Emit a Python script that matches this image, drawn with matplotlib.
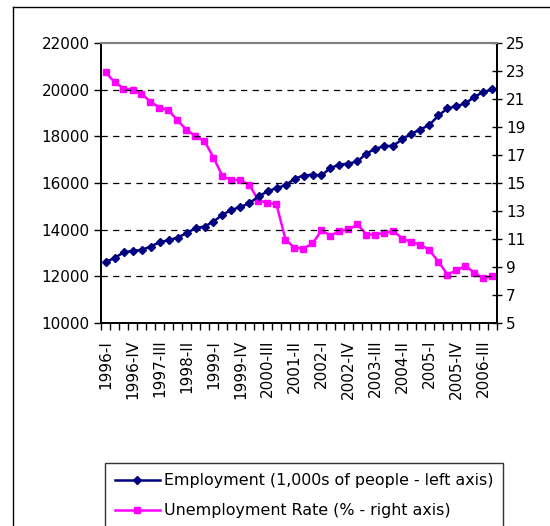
import matplotlib
matplotlib.use("Agg")
import matplotlib.pyplot as plt
from matplotlib.lines import Line2D
from matplotlib.ticker import FixedLocator, NullFormatter

plt.rcParams['font.family'] = ['DejaVu Sans']

years = list(range(1996, 2007))
quarter_names = ["I", "II", "III", "IV"]
quarters = [f"{y}-{q}" for y in years for q in quarter_names]

employment = [12628, 12774, 13032, 13088, 13131, 13273, 13462, 13548, 13660, 13850,
              14065, 14133, 14348, 14637, 14852, 14968, 15140, 15424, 15639, 15785,
              15897, 16180, 16320, 16357, 16327, 16645, 16787, 16830, 16929, 17260,
              17475, 17574, 17604, 17880, 18120, 18292, 18495, 18895, 19196, 19295,
              19411, 19699, 19897, 20013]

unemployment = [22.90, 22.22, 21.75, 21.63, 21.39, 20.79, 20.39, 20.20, 19.48, 18.79,
                18.36, 18.00, 16.81, 15.49, 15.21, 15.21, 14.85, 13.75, 13.59, 13.47,
                10.96, 10.37, 10.32, 10.68, 11.61, 11.25, 11.56, 11.68, 12.04, 11.32,
                11.32, 11.44, 11.56, 11.03, 10.77, 10.60, 10.20, 9.37, 8.46, 8.77,
                9.08, 8.58, 8.19, 8.34]

left_ticks = [10000, 12000, 14000, 16000, 18000, 20000, 22000]
right_ticks = [5, 7, 9, 11, 13, 15, 17, 19, 21, 23, 25]

W, H = 550, 526
fig = plt.figure(figsize=(W / 100, H / 100), dpi=100)
ax = fig.add_axes([101 / W, 1 - 323 / H, (497 - 101) / W, (323 - 43) / H])
ax2 = ax.twinx()

n = len(quarters)
x = list(range(n))

navy = "#000080"
magenta = "#FF00FF"
FS = 11

l1, = ax.plot(x, employment, color=navy, lw=1.8, marker="D", ms=4.2,
              mfc=navy, mec=navy, label="Employment (1,000s of people - left axis)")
l2, = ax2.plot(x, unemployment, color=magenta, lw=1.8, marker="s", ms=5,
               mfc=magenta, mec=magenta, label="Unemployment Rate (% - right axis)")

ax.set_xlim(-0.5, n - 0.5)
ax.set_ylim(10000, 22000)
ax2.set_ylim(5, 25)

# gridlines
for v in left_ticks[1:-1]:
    ax.axhline(v, color="black", lw=0.9, dashes=(5, 4.3), zorder=0)

ax.set_yticks(left_ticks)
ax.set_yticklabels([str(v) for v in left_ticks], fontsize=FS)
ax.tick_params(axis="y", direction="out", length=5, width=1, pad=3)
ax2.set_yticks(right_ticks)
ax2.set_yticklabels([str(v) for v in right_ticks], fontsize=FS)
ax2.tick_params(axis="y", direction="inout", length=7, width=1, pad=3)

label_idx = list(range(0, n, 3))
ax.xaxis.set_major_locator(FixedLocator(label_idx))
ax.set_xticklabels([quarters[i] for i in label_idx], rotation=90, fontsize=FS)
ax.xaxis.set_minor_locator(FixedLocator([i - 0.5 for i in range(n + 1)]))
ax.xaxis.set_minor_formatter(NullFormatter())
ax.tick_params(axis="x", which="major", length=0, pad=12)
ax.tick_params(axis="x", which="minor", direction="out", length=5, width=1)

for a in (ax, ax2):
    a.spines["left"].set_color("black")
    a.spines["left"].set_linewidth(1.3)
    a.spines["right"].set_color("black")
    a.spines["right"].set_linewidth(1.3)
    a.spines["bottom"].set_color("black")
    a.spines["bottom"].set_linewidth(1.3)
    a.spines["top"].set_color("#808080")
    a.spines["top"].set_linewidth(1.5)

ax.set_zorder(ax2.get_zorder() + 1)
ax.patch.set_visible(False)

leg = fig.legend(handles=[l1, l2], loc="upper left",
                 bbox_to_anchor=(105 / W, 1 - 463 / H), fontsize=11.4,
                 handlelength=2.8, handletextpad=0.25, labelspacing=0.95,
                 borderpad=0.65, frameon=True, fancybox=False, markerscale=1.0,
                 numpoints=1, borderaxespad=0)
leg.get_frame().set_edgecolor("black")
leg.get_frame().set_linewidth(1.0)

# outer chart border (extends past right and bottom)
fig.add_artist(Line2D([13 / W, 13 / W], [0, 1 - 7 / H], transform=fig.transFigure,
                      color="black", lw=1.0))
fig.add_artist(Line2D([13 / W, 1], [1 - 7 / H, 1 - 7 / H], transform=fig.transFigure,
                      color="black", lw=1.0))

fig.savefig("out.png", dpi=100)
